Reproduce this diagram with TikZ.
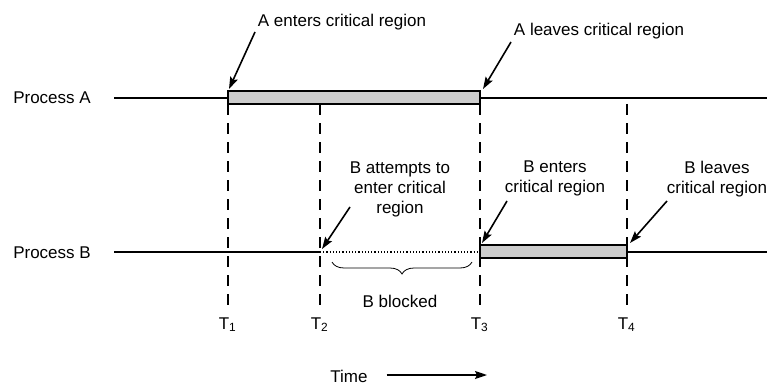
\documentclass[tikz,border=0pt]{standalone}
\usepackage{fontspec}
\setmainfont{Liberation Sans}
\usetikzlibrary{arrows.meta,decorations.pathreplacing}

\begin{document}
\begin{tikzpicture}[x=1pt,y=-1pt,line width=1.6pt,
		font=\fontsize{17}{20}\selectfont,
		bar/.style = {draw,fill=black!20,line width=1.6pt},
		tline/.style = {dash pattern=on 11pt off 8pt,line width=1.4pt},
		pointer/.style = {-{Stealth[length=12pt,width=8pt,inset=2pt]},line width=1.6pt},
		label node/.style = {align=center,inner sep=0pt,anchor=north}]
		
		\useasboundingbox (0,0) rectangle (767,385);
		
		\coordinate (a0) at (114,98);
		\coordinate (a1) at (228,98);
		\coordinate (a3) at (480,98);
		\coordinate (a5) at (767,98);
		\coordinate (b0) at (114,252);
		\coordinate (b2) at (320,252);
		\coordinate (b3) at (480,252);
		\coordinate (b4) at (627,252);
		\coordinate (b5) at (767,252);
		
		\foreach \x/\i in {228/1,320/2,480/3,627/4} {
			\draw[tline] (\x,104) -- (\x,305);
			\node[anchor=base west,inner sep=0pt] (t\i) at (\x-10,329) {T\textsubscript{\i}};
		}
		
		\node (pA) at (52,98) {Process A};
		\node (pB) at (52,253) {Process B};
		
		\draw (a0)--(a1);
		\draw (a3)--(a5);
		\draw[bar] (228,91) rectangle (480,104);
		\draw (b0)--(b2);
		\draw[dash pattern=on 1.2pt off 2pt,line width=1.3pt] (b2)--(b3);
		\draw[bar] (480,245) rectangle (627,258);
		\draw (b4)--(b5);
		
		\node[anchor=base] (aIn) at (342,27) {A enters critical region};
		\node[anchor=base] (aOut) at (599,36) {A leaves critical region};
		\node[label node] (bTry) at (400,161) {B attempts to\\enter critical\\region};
		\node[label node] (bIn) at (555,160) {B enters\\critical region};
		\node[label node] (bOut) at (717,160) {B leaves\\critical region};
		
		\coordinate (aIn tail) at (255,32);
		\coordinate (aIn tip) at (229,89);
		\coordinate (aOut tail) at (511,42);
		\coordinate (aOut tip) at (483,89);
		\coordinate (bTry tail) at (350,207);
		\coordinate (bTry tip) at (322,249);
		\coordinate (bIn tail) at (507,201);
		\coordinate (bIn tip) at (482,243);
		\coordinate (bOut tail) at (667,201);
		\coordinate (bOut tip) at (630,243);
		\foreach \n in {aIn,aOut,bTry,bIn,bOut}
			\draw[pointer] (\n\space tail) -- (\n\space tip);
		
		\draw[decorate,decoration={brace,amplitude=12pt},line width=0.8pt] (472,262) -- (332,262);
		\node[anchor=base] (blocked) at (400,307) {B blocked};
		
		\node[anchor=base] (time) at (349,382) {Time};
		\coordinate (time end) at (487,375);
		\draw[pointer,shorten <=15pt] (time.east |- time end) -- (time end);
\end{tikzpicture}
\end{document}
